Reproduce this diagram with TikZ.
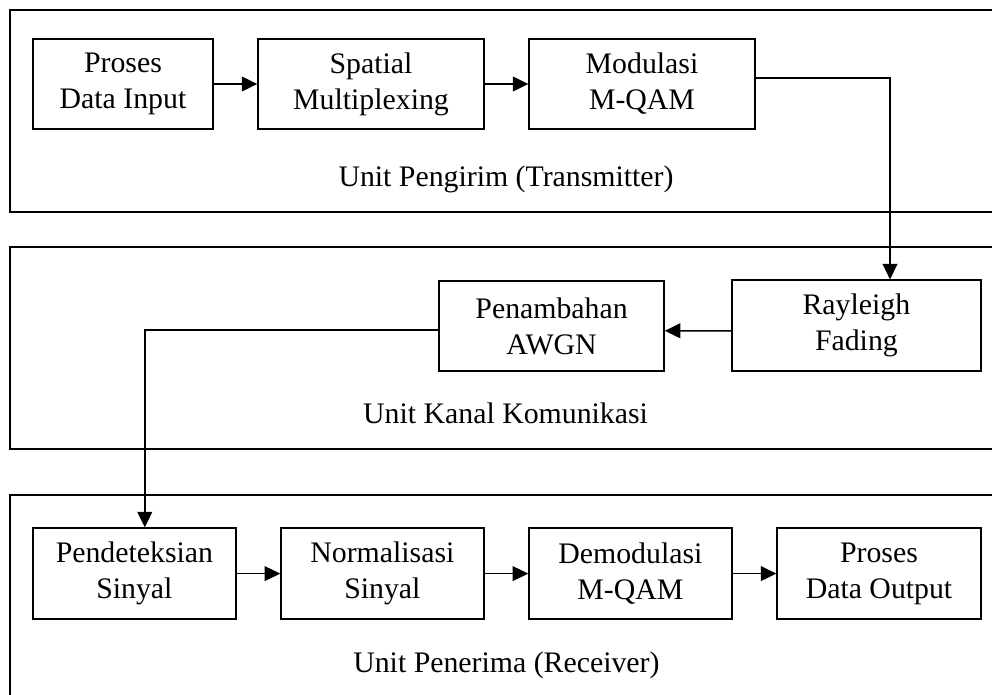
\documentclass[tikz,border=0pt]{standalone}
\usepackage{fontspec}
\setmainfont{Liberation Serif}
\usepackage{tikz}
\usetikzlibrary{positioning, calc, arrows.meta}

\begin{document}
\begin{tikzpicture}[
    block/.style={draw, line width=1pt, align=center, minimum height=2.25cm,
      inner sep=0pt, font=\fontsize{21.2}{25.6}\selectfont},
    unitlabel/.style={anchor=base, font=\fontsize{21.2}{25.6}\selectfont},
    unitframe/.style={line width=1.1pt},
    >={Triangle[length=11pt, width=10.5pt]}, line width=1pt]
      \useasboundingbox (0,0) rectangle (24.8,-17.35);

      \draw[unitframe] (25,-0.25) -| (0.25,-5.3) -- (25,-5.3);
      \draw[unitframe] (25,-6.175) -| (0.25,-11.225) -- (25,-11.225);
      \draw[unitframe] (25,-12.375) -| (0.25,-17.6);

      \node[block, minimum width=4.5cm] (TX1) at (3.075,-2.1) {Proses\\Data Input};
      \node[block, minimum width=5.65cm] (TX2) at (9.275,-2.1) {Spatial\\Multiplexing};
      \node[block, minimum width=5.65cm] (TX3) at (16.05,-2.1) {Modulasi\\M-QAM};
      \node[unitlabel] (TXU) at (12.65,-4.65) {Unit Pengirim (Transmitter)};

      \node[block, minimum width=6.225cm, minimum height=2.275cm] (CH1) at (21.41,-8.14) {Rayleigh\\Fading};
      \node[block, minimum width=5.625cm] (CH2) at (13.79,-8.15) {Penambahan\\AWGN};
      \node[unitlabel] (CHU) at (12.64,-10.575) {Unit Kanal Komunikasi};

      \node[block, minimum width=5.075cm, minimum height=2.275cm] (RX1) at (3.36,-14.34) {Pendeteksian\\Sinyal};
      \node[block, minimum width=5.075cm, minimum height=2.275cm] (RX2) at (9.56,-14.34) {Normalisasi\\Sinyal};
      \node[block, minimum width=5.075cm, minimum height=2.275cm] (RX3) at (15.76,-14.34) {Demodulasi\\M-QAM};
      \node[block, minimum width=5.1cm, minimum height=2.275cm] (RX4) at (21.975,-14.34) {Proses\\Data Output};
      \node[unitlabel] (RXU) at (12.66,-16.8) {Unit Penerima (Receiver)};

      \draw[->] (TX1) -- (TX2);
      \draw[->] (TX2) -- (TX3);
      \draw[->] ([yshift=0.15cm]TX3.east) -| ([xshift=0.84cm]CH1.north);
      \draw[->] ([yshift=-0.13cm]CH1.west) -- ([yshift=-0.12cm]CH2.east);
      \draw[->] ([yshift=-0.1cm]CH2.west) -| ([xshift=0.26cm]RX1.north);
      \draw[->] (RX1) -- (RX2);
      \draw[->] (RX2) -- (RX3);
      \draw[->] (RX3) -- (RX4);
    \end{tikzpicture}
\end{document}
